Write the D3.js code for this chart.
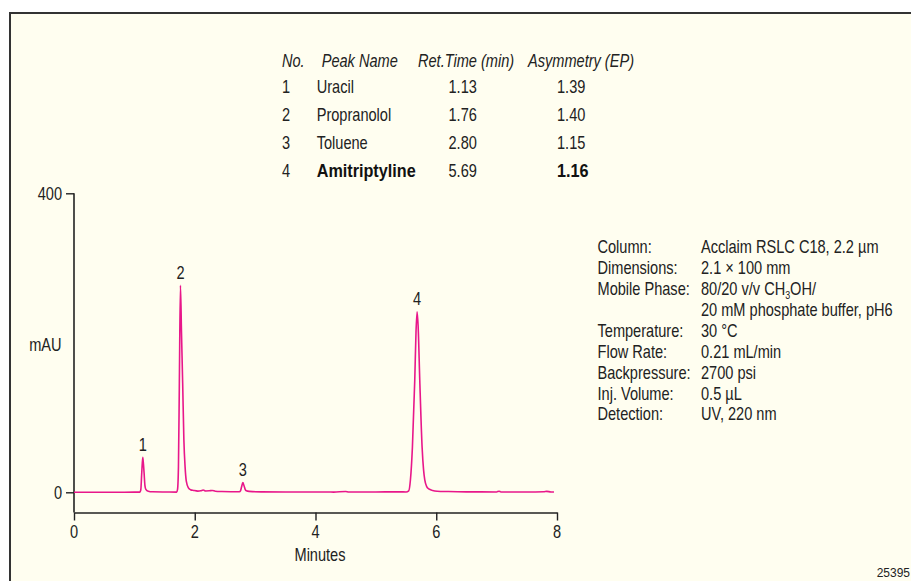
<!DOCTYPE html>
<html>
<head>
<meta charset="utf-8">
<script src="https://cdn.jsdelivr.net/npm/d3@7"></script>
<style>
  html, body { margin: 0; padding: 0; background: #ffffff; }
  svg { display: block; }
  text { font-family: "Liberation Sans", Arial, Helvetica, sans-serif; fill: #222; }
</style>
</head>
<body>
<svg id="chart" width="911" height="581"></svg>
<script>
// ---- Chromatogram trace: time (min) and detector signal (mAU) ----
const traceTime = [
  0.00, 0.50, 1.00, 1.09, 1.106, 1.122, 1.139, 1.150, 1.161, 1.175, 1.19, 1.23, 1.30, 1.50,
  1.70, 1.715, 1.73, 1.745, 1.763, 1.78, 1.80, 1.82, 1.84, 1.86, 1.895, 1.93, 1.98,
  2.05, 2.10, 2.14, 2.18, 2.24, 2.29, 2.34, 2.45, 2.60,
  2.74, 2.757, 2.775, 2.797, 2.815, 2.835, 2.855, 2.90, 3.10, 3.50, 4.00, 4.30, 4.50, 4.55, 5.00, 5.40,
  5.50, 5.544, 5.572, 5.605, 5.644, 5.665, 5.683, 5.70, 5.727, 5.766, 5.79, 5.81, 5.84, 5.876, 5.94, 6.015,
  6.20, 6.50, 7.00, 7.04, 7.07, 7.50, 7.78, 7.83, 7.90, 7.95
];
const traceSignal = [
  0.0, 0.0, 0.2, 0.3, 3.0, 25.8, 46.8, 38.0, 25.8, 9.0, 4.0, 1.5, 0.7, 0.4,
  0.3, 4.0, 34.0, 146.0, 277.0, 215.0, 146.0, 70.0, 34.0, 15.0, 6.0, 3.5, 2.5,
  1.6, 2.0, 3.0, 1.8, 2.0, 2.5, 1.5, 1.0, 0.8,
  0.8, 2.0, 7.0, 13.0, 9.0, 4.0, 2.0, 1.2, 0.6, 0.5, 0.5, 0.3, 1.0, 0.4, 0.5, 0.6,
  0.5, 2.0, 16.5, 60.0, 150.0, 215.0, 241.6, 222.0, 150.0, 60.0, 30.0, 16.5, 8.0, 4.5, 2.5, 1.5,
  1.0, 0.6, 0.5, 1.5, 0.5, 0.5, 0.8, 1.3, 0.5, 0.5
];

// ---- Peak table ----
const peakNo = ["1", "2", "3", "4"];
const peakName = ["Uracil", "Propranolol", "Toluene", "Amitriptyline"];
const retTime = ["1.13", "1.76", "2.80", "5.69"];
const asymmetry = ["1.39", "1.40", "1.15", "1.16"];
const peakBold = [false, false, false, true];
const tableHeader = ["No.", "Peak Name", "Ret.Time (min)", "Asymmetry (EP)"];

// ---- Axes ----
const xTicks = [0, 2, 4, 6, 8];
const yTicks = [0, 400];
const xLabel = "Minutes";
const yLabel = "mAU";

// ---- Method conditions ----
const condLabels = ["Column:", "Dimensions:", "Mobile Phase:", "", "Temperature:",
  "Flow Rate:", "Backpressure:", "Inj. Volume:", "Detection:"];
const condValues = [
  [["Acclaim RSLC C18, 2.2 \u00b5m"]],
  [["2.1 \u00d7 100 mm"]],
  [["80/20 v/v CH"], ["3", "sub"], ["OH/"]],
  [["20 mM phosphate buffer, pH6"]],
  [["30 \u00b0C"]],
  [["0.21 mL/min"]],
  [["2700 psi"]],
  [["0.5 \u00b5L"]],
  [["UV, 220 nm"]]
];
const figureId = "25395";

// ---- Drawing ----
const svg = d3.select("#chart");
const SX = 0.81;      // horizontal compression for the condensed lettering
const SX_BOLD = 0.9;
const FS = 18;

function label(parent, x, y, str, opt = {}) {
  const sx = opt.sx ?? (opt.bold ? SX_BOLD : SX);
  const t = parent.append("text")
    .attr("transform", `translate(${x},${y}) scale(${sx},1)`)
    .attr("font-size", opt.size ?? FS)
    .attr("text-anchor", opt.anchor ?? "start")
    .text(str);
  if (opt.bold) t.attr("font-weight", "bold").style("fill", "#111");
  if (opt.italic) t.attr("font-style", "italic");
  return t;
}

// panel background and frame
svg.append("rect").attr("x", 10).attr("y", 13).attr("width", 1000).attr("height", 1000)
  .attr("fill", "#fffef0").attr("stroke", "#333").attr("stroke-width", 2);

const x = d3.scaleLinear().domain([0, 8]).range([74, 557]);
const y = d3.scaleLinear().domain([0, 400]).range([492.3, 193.3]);
const axisY0 = 512.5;

// x axis
const gx = svg.append("g").attr("transform", `translate(0,${axisY0})`)
  .call(d3.axisBottom(x).tickValues(xTicks).tickSize(8).tickSizeOuter(0).tickFormat(""));
gx.select(".domain").attr("stroke", "#222").attr("stroke-width", 1.6);
gx.selectAll(".tick line").attr("stroke", "#222").attr("stroke-width", 1.4);
xTicks.forEach(v => label(svg, x(v), 537.5, String(v), { anchor: "middle" }));
label(svg, 320, 560.5, xLabel, { anchor: "middle" });

// y axis
svg.append("line").attr("x1", 74).attr("x2", 74).attr("y1", y(400)).attr("y2", axisY0)
  .attr("stroke", "#222").attr("stroke-width", 1.6);
const gy = svg.append("g").attr("transform", "translate(74,0)")
  .call(d3.axisLeft(y).tickValues(yTicks).tickSize(8).tickFormat(""));
gy.select(".domain").remove();
gy.selectAll(".tick line").attr("stroke", "#222").attr("stroke-width", 1.4);
yTicks.forEach(v => label(svg, 62, y(v) + 6.5, String(v), { anchor: "end" }));
label(svg, 61.5, 350.5, yLabel, { anchor: "end" });

// trace
const pts = traceTime.map((t, i) => [t, traceSignal[i]]);
svg.append("path").datum(pts)
  .attr("fill", "none").attr("stroke", "#e8178a").attr("stroke-width", 1.6)
  .attr("stroke-linejoin", "round")
  .attr("d", d3.line().x(d => x(d[0])).y(d => y(d[1])).curve(d3.curveMonotoneX));

// peak numbers above each apex
peakNo.forEach((n, i) => {
  const rt = +retTime[i];
  let best = null;
  pts.forEach(p => { if (Math.abs(p[0] - rt) < 0.08 && (!best || p[1] > best[1])) best = p; });
  label(svg, x(best[0]), y(best[1]) - 6.5, n, { anchor: "middle" });
});

// peak table
const colX = [282, 316.7, 448.5, 557];
const headX = [282, 321.7, 418, 528];
const hdrY = 66.5;
const rowY = [93, 121, 149, 177];
tableHeader.forEach((h, j) => label(svg, headX[j], hdrY, h, { italic: true }));
peakNo.forEach((n, i) => {
  label(svg, colX[0], rowY[i], n);
  label(svg, colX[1], rowY[i], peakName[i], { bold: peakBold[i] });
  label(svg, colX[2], rowY[i], retTime[i]);
  label(svg, colX[3], rowY[i], asymmetry[i], { bold: peakBold[i] });
});

// method conditions
const condY0 = 253.2, condDY = 20.9;
condLabels.forEach((l, i) => {
  const yy = condY0 + i * condDY;
  if (l) label(svg, 597.5, yy, l);
  const t = label(svg, 701, yy, "");
  condValues[i].forEach(part => {
    const s = t.append("tspan").text(part[0]);
    if (part[1] === "sub") {
      s.attr("font-size", 11).attr("dy", 4);
    } else if (t.selectAll("tspan").size() > 1) {
      s.attr("dy", -4);
    }
  });
});

label(svg, 910, 577, figureId, { anchor: "end", size: 12, sx: 1 });
</script>
</body>
</html>
